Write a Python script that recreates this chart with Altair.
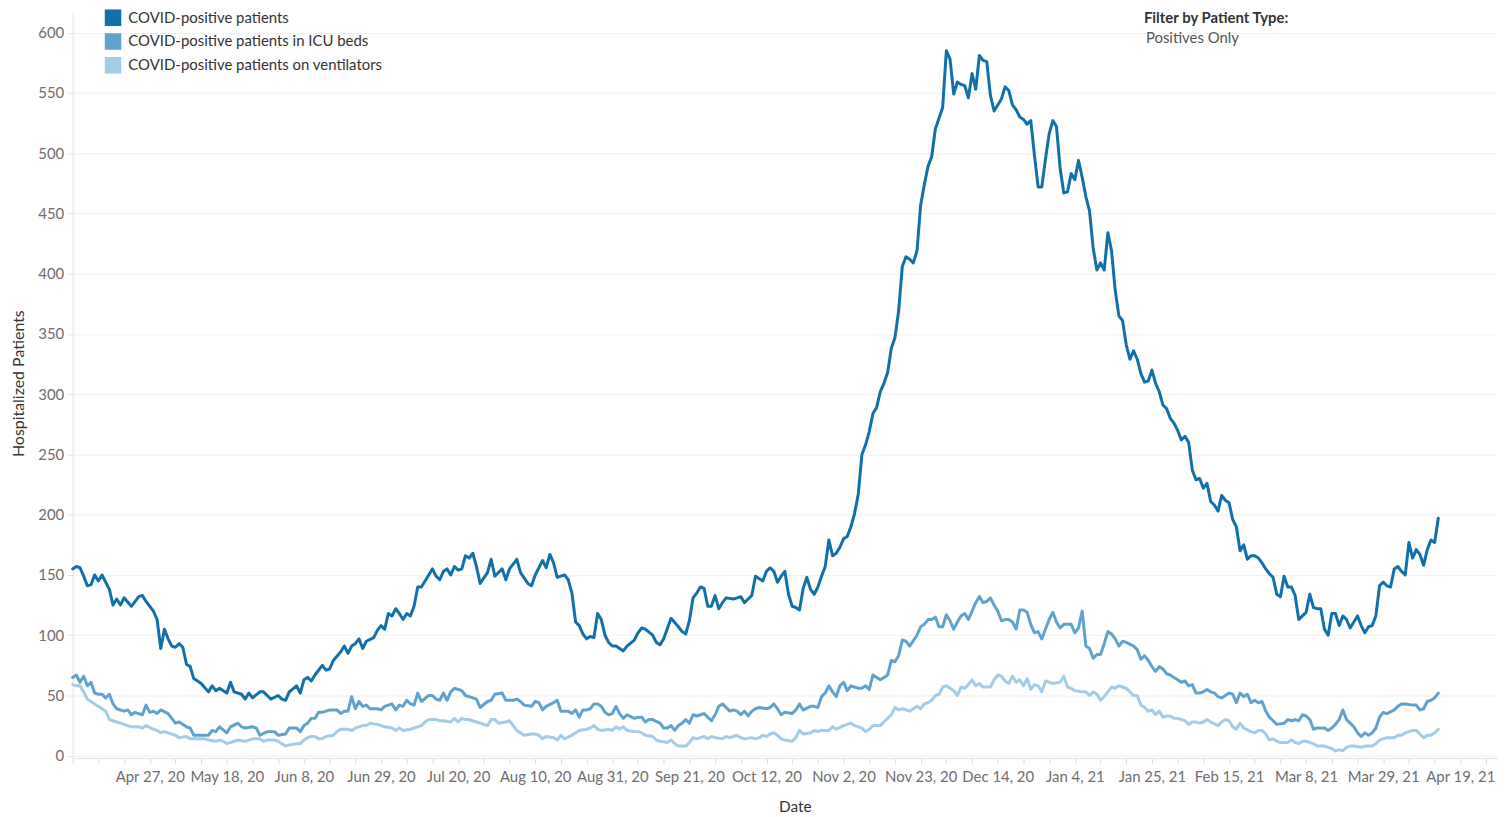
import altair as alt
import pandas as pd

START = "2020-04-06"
X_END = "2021-04-29"

series_names = [
    "COVID-positive patients",
    "COVID-positive patients in ICU beds",
    "COVID-positive patients on ventilators",
]
series_colors = ["#1170aa", "#5fa2ce", "#a3cce9"]

filter_title = "Filter by Patient Type:"
filter_value = "Positives Only"

# (day offset from 2020-04-06, patients)
positive = [
    (0,155),(1,157),(2,156),(3,149),(4,141),(5,142),(6,150),(7,145),(8,150),(10,138),(11,125),(12,130),(13,125),(14,131),
    (16,124),(18,132),(19,133),(20,128),(22,120),(23,113),(24,89),(25,105),(26,97),(27,91),(28,90),(29,93),(30,90),(31,76),
    (32,74),(33,64),(35,60),(37,53),(38,58),(39,54),(40,56),(42,52),(43,61),(44,53),(46,51),(47,47),(48,52),(49,48),(51,53),
    (52,53),(53,50),(54,47),(56,50),(57,47),(58,46),(59,53),(61,58),(62,52),(63,63),(64,65),(65,62),(66,67),(68,75),(69,71),
    (70,72),(71,79),(73,86),(74,91),(75,85),(76,91),(77,93),(78,97),(79,89),(80,95),(82,98),(83,104),(84,108),(85,105),
    (86,118),(87,116),(88,122),(89,118),(90,113),(91,118),(92,116),(93,124),(94,140),(95,140),(96,145),(98,155),(99,149),
    (100,146),(101,153),(102,155),(103,150),(104,157),(105,154),(106,155),(107,166),(108,164),(109,168),(110,157),(111,143),
    (113,152),(114,163),(115,149),(117,155),(118,146),(119,155),(121,163),(122,152),(124,143),(125,141),(126,150),(127,156),
    (128,162),(129,156),(130,167),(131,160),(132,148),(133,149),(134,150),(135,146),(136,135),(137,111),(138,108),(139,101),
    (140,97),(141,99),(142,98),(143,118),(144,113),(145,100),(146,94),(147,91),(148,91),(150,87),(151,91),(153,96),(154,102),
    (155,106),(156,105),(158,100),(159,94),(160,92),(161,97),(163,114),(165,107),(166,103),(167,101),(168,112),(169,131),
    (170,135),(171,140),(172,139),(173,124),(174,124),(175,133),(176,122),(177,127),(178,131),(180,130),(181,131),(182,132),
    (183,127),(184,130),(185,133),(186,149),(188,145),(189,153),(190,156),(191,153),(192,144),(193,149),(194,153),(195,134),
    (196,124),(197,123),(198,121),(199,139),(200,148),(201,138),(202,134),(203,140),(204,149),(205,157),(206,179),(207,166),
    (208,168),(209,173),(210,180),(211,182),(212,190),(213,201),(214,217),(215,250),(216,258),(217,269),(218,284),(219,289),
    (220,302),(221,309),(222,318),(223,338),(224,347),(225,369),(226,406),(227,414),(228,412),(229,409),(230,419),(231,457),
    (232,474),(233,489),(234,497),(235,520),(236,529),(237,538),(238,585),(239,578),(240,549),(241,559),(242,557),(243,556),
    (244,546),(245,566),(246,553),(247,581),(248,577),(249,576),(250,548),(251,535),(252,540),(253,545),(254,555),(255,552),
    (256,540),(257,536),(258,530),(259,528),(260,524),(261,527),(262,498),(263,472),(264,472),(265,495),(266,516),(267,527),
    (268,522),(269,487),(270,467),(271,468),(272,483),(273,478),(274,494),(275,480),(276,464),(277,452),(278,421),(279,403),
    (280,409),(281,403),(282,434),(283,419),(284,386),(285,365),(286,361),(287,341),(288,329),(289,336),(290,329),(291,317),
    (292,310),(293,311),(294,320),(295,309),(296,302),(297,291),(298,288),(299,280),(300,276),(301,270),(302,262),(303,265),
    (304,260),(305,237),(306,229),(307,230),(308,222),(309,226),(310,211),(311,208),(312,203),(313,216),(314,212),(315,210),
    (316,196),(317,190),(318,170),(319,175),(320,163),(321,166),(322,166),(323,164),(324,160),(325,155),(326,151),(327,148),
    (328,134),(329,132),(330,149),(331,140),(332,140),(333,133),(334,113),(335,116),(336,119),(337,134),(338,123),(339,122),
    (340,122),(341,105),(342,100),(343,118),(344,118),(345,108),(346,116),(347,113),(348,106),(349,111),(350,116),(351,108),
    (352,102),(353,107),(354,108),(355,116),(356,141),(357,144),(358,141),(359,140),(360,155),(361,157),(362,153),(363,150),
    (364,177),(365,164),(366,171),(367,167),(368,158),(369,171),(370,179),(371,177),(372,197),
]

icu = [
    (0,65),(1,67),(2,61),(3,66),(4,58),(5,61),(6,52),(7,51),(8,51),(9,48),(10,51),(11,43),(12,39),(14,37),(15,38),(16,34),
    (17,36),(18,35),(19,34),(20,42),(21,36),(22,37),(23,35),(24,38),(26,35),(27,31),(28,27),(29,28),(31,24),(32,23),(33,17),
    (34,17),(36,17),(37,17),(38,21),(39,20),(40,24),(42,19),(43,24),(45,27),(46,24),(47,23),(49,24),(50,23),(51,17),(53,20),
    (54,20),(55,20),(56,17),(58,18),(59,23),(61,23),(62,20),(63,25),(64,27),(65,31),(66,31),(67,36),(68,36),(70,38),(71,38),
    (72,38),(73,35),(74,37),(75,37),(76,49),(77,39),(78,45),(79,41),(80,42),(81,39),(82,39),(83,39),(84,38),(85,41),(87,43),
    (88,38),(89,42),(90,41),(91,46),(92,43),(93,42),(94,52),(95,45),(97,50),(98,50),(99,47),(100,46),(101,52),(102,46),
    (103,53),(104,56),(106,54),(107,50),(108,49),(110,47),(111,40),(113,45),(114,46),(115,51),(117,52),(118,46),(120,46),
    (121,47),(122,45),(123,42),(125,41),(126,45),(127,44),(128,38),(129,41),(131,44),(132,46),(133,37),(135,37),(136,35),
    (137,38),(138,32),(139,38),(140,38),(141,39),(142,43),(143,43),(144,41),(145,36),(146,34),(147,35),(148,41),(149,35),
    (150,31),(151,34),(153,31),(154,32),(155,32),(156,28),(157,30),(158,30),(160,27),(161,23),(162,23),(163,25),(164,21),
    (165,25),(166,27),(167,30),(168,27),(169,34),(170,33),(172,35),(173,32),(174,29),(175,34),(176,41),(177,43),(179,37),
    (180,38),(181,37),(182,34),(183,37),(184,33),(185,37),(186,39),(187,40),(189,39),(190,40),(191,43),(192,39),(193,34),
    (194,36),(196,35),(197,38),(198,43),(199,38),(201,41),(202,41),(203,40),(204,49),(205,52),(206,58),(207,53),(208,49),
    (209,58),(210,61),(211,54),(212,58),(214,56),(215,56),(216,58),(217,55),(218,67),(220,63),(221,65),(222,67),(223,79),
    (224,78),(225,83),(226,96),(227,95),(228,91),(230,100),(231,107),(232,109),(233,113),(234,113),(235,115),(236,107),
    (237,107),(238,117),(239,112),(240,105),(241,111),(242,116),(243,118),(244,113),(245,120),(246,127),(247,132),(248,127),
    (249,128),(250,131),(251,125),(252,120),(253,112),(254,113),(255,113),(256,111),(257,105),(258,121),(259,121),(260,119),
    (261,109),(262,102),(263,103),(264,97),(265,105),(266,113),(267,119),(268,111),(269,106),(270,109),(272,109),(273,102),
    (274,106),(275,120),(276,91),(277,89),(278,81),(279,84),(280,84),(281,93),(282,103),(283,101),(284,97),(285,91),(286,95),
    (287,94),(289,91),(290,88),(291,80),(292,83),(293,79),(294,74),(295,70),(296,74),(297,72),(298,68),(299,67),(300,65),
    (301,63),(302,61),(303,62),(304,58),(305,59),(306,52),(307,52),(308,53),(309,55),(310,53),(311,52),(312,49),(313,48),
    (314,50),(315,52),(316,51),(317,44),(318,52),(319,49),(320,51),(321,44),(322,46),(323,44),(324,45),(325,37),(326,32),
    (327,29),(328,26),(330,27),(331,30),(332,29),(333,30),(334,29),(335,34),(336,33),(337,30),(338,22),(339,23),(341,23),
    (342,21),(343,23),(344,26),(345,30),(346,38),(347,30),(349,24),(350,19),(351,16),(352,19),(353,17),(354,19),(355,23),
    (356,32),(357,36),(358,35),(360,38),(361,41),(362,43),(363,43),(365,42),(366,42),(367,38),(368,39),(369,45),(370,46),
    (371,48),(372,52),
]

ventilators = [
    (0,59),(1,58),(2,58),(3,53),(4,47),(5,45),(6,43),(8,39),(9,37),(10,30),(12,28),(13,27),(15,25),(16,24),(18,24),(19,23),
    (20,25),(22,22),(23,21),(24,19),(25,20),(26,19),(28,17),(29,15),(31,16),(32,14),(34,14),(36,14),(37,13),(39,12),(40,13),
    (41,12),(42,10),(44,12),(45,13),(47,12),(48,13),(49,14),(51,14),(52,12),(53,13),(55,13),(56,12),(57,10),(58,8),(59,9),
    (61,10),(62,10),(63,13),(64,15),(65,16),(66,16),(67,14),(68,14),(69,16),(71,17),(72,20),(73,22),(75,22),(76,21),(77,23),
    (79,25),(80,25),(81,27),(83,26),(84,25),(85,24),(87,23),(88,21),(89,23),(90,21),(92,22),(93,23),(95,25),(96,28),(97,30),
    (99,30),(100,29),(101,29),(103,28),(104,31),(105,28),(106,31),(107,30),(108,30),(110,28),(111,27),(113,25),(114,30),
    (115,30),(116,27),(118,28),(119,29),(120,25),(121,21),(122,19),(123,17),(125,18),(126,18),(127,17),(128,14),(129,16),
    (131,15),(132,13),(133,17),(134,14),(136,17),(137,19),(138,21),(140,22),(141,23),(142,25),(143,22),(144,21),(146,22),
    (147,21),(148,24),(149,22),(150,24),(151,21),(153,20),(154,20),(155,19),(156,17),(158,16),(159,13),(160,12),(162,11),
    (163,13),(164,10),(165,8),(167,8),(168,11),(169,15),(170,14),(172,16),(173,14),(174,16),(175,15),(177,14),(178,16),
    (179,15),(181,17),(182,15),(183,14),(185,15),(186,14),(187,15),(188,17),(189,16),(190,18),(191,19),(192,17),(193,14),
    (194,13),(196,12),(197,15),(198,21),(199,18),(201,19),(202,21),(203,20),(204,21),(206,21),(207,24),(208,22),(210,25),
    (211,26),(212,27),(213,25),(215,23),(216,20),(217,22),(218,25),(220,25),(221,28),(222,31),(223,34),(224,40),(225,38),
    (226,39),(228,37),(229,39),(230,41),(231,39),(232,43),(233,44),(234,46),(235,50),(236,51),(237,57),(238,58),(239,56),
    (240,54),(241,50),(242,57),(243,56),(244,59),(245,63),(246,58),(247,60),(248,57),(250,57),(251,63),(252,67),(253,66),
    (254,62),(255,60),(256,66),(257,61),(258,63),(259,58),(260,64),(261,55),(262,59),(263,58),(264,53),(265,62),(266,61),
    (267,60),(269,61),(270,66),(271,57),(272,56),(273,54),(275,53),(276,53),(277,50),(278,53),(279,51),(280,46),(281,49),
    (282,53),(283,57),(284,56),(285,58),(286,57),(287,56),(288,53),(289,50),(290,50),(291,42),(292,40),(293,37),(294,38),
    (295,34),(296,37),(297,32),(298,33),(299,33),(300,31),(301,31),(302,30),(303,29),(304,26),(305,28),(306,28),(307,27),
    (308,28),(309,30),(310,28),(312,25),(313,28),(314,30),(315,29),(316,24),(317,22),(318,27),(319,23),(321,20),(322,19),
    (323,21),(324,21),(325,18),(326,13),(327,14),(328,12),(329,11),(331,11),(332,13),(333,11),(334,10),(335,12),(336,12),
    (338,10),(339,8),(340,8),(341,8),(342,7),(343,6),(344,4),(345,5),(346,4),(347,7),(348,8),(349,8),(351,7),(352,8),
    (353,8),(354,8),(355,10),(356,13),(357,14),(358,15),(360,15),(361,17),(362,17),(363,19),(365,21),(366,21),(367,18),
    (368,15),(369,17),(370,17),(371,19),(372,22),
]

y_ticks = list(range(0, 601, 50))

# ---------------------------------------------------------------- data table
start = pd.Timestamp(START)
rows = []
for name, pts in zip(series_names, [positive, icu, ventilators]):
    for d, v in pts:
        rows.append({"date": (start + pd.Timedelta(days=d)).strftime("%Y-%m-%d"),
                     "value": v, "series": name})
df = pd.DataFrame(rows)


def ms(ts):
    return int(pd.Timestamp(ts).value // 10**6)


week_ticks = [ms(t) for t in pd.date_range(START, "2021-04-26", freq="7D")]
t_first_label = ms("2020-04-27")
label_expr = (
    f"datum.value >= {t_first_label} && "
    f"round((datum.value - {t_first_label}) / 604800000) % 3 == 0 "
    f"? utcFormat(datum.value, '%b %-d, %y') : ''"
)

FONT = "Lato"

x_enc = alt.X(
    "date:T",
    scale=alt.Scale(type="utc", domain=[ms(START), ms(X_END)]),
    axis=alt.Axis(
        values=week_ticks, labelExpr=label_expr, title="Date", grid=False,
        labelOverlap=False, labelFlush=False, tickSize=5, labelPadding=6,
        tickColor="#d9d9d9", domainColor="#e3e3e3",
        labelFont=FONT, labelFontSize=15, labelColor="#6e6e6e",
        titleFont=FONT, titleFontSize=15.5, titleFontWeight="normal", titleColor="#333333",
        titleX=726, titleY=49, titleBaseline="middle", titleAnchor="start", titleAlign="center",
    ),
)
y_enc = alt.Y(
    "value:Q",
    scale=alt.Scale(domain=[-2, 617], nice=False, zero=False),
    axis=alt.Axis(
        values=y_ticks, title="Hospitalized Patients", grid=True, gridColor="#f0f0f0",
        tickSize=5, labelPadding=4, tickColor="#e3e3e3", domainColor="#e3e3e3",
        labelFont=FONT, labelFontSize=15, labelColor="#6e6e6e",
        titleFont=FONT, titleFontSize=16, titleFontWeight="normal", titleColor="#333333",
        titleX=-54, titleY=373, titleAngle=-90, titleBaseline="middle", titleAlign="center",
    ),
)

lines = alt.Chart(df).mark_line(strokeJoin="round", strokeCap="round").encode(
    x=x_enc,
    y=y_enc,
    color=alt.Color(
        "series:N",
        scale=alt.Scale(domain=series_names, range=series_colors),
        sort=series_names,
        legend=alt.Legend(
            title=None, orient="none", legendX=32, legendY=-3,
            symbolType="square", symbolSize=70, symbolStrokeWidth=8.4,
            labelFont=FONT, labelFontSize=15, labelColor="#333333", labelLimit=0,
            clipHeight=17, rowPadding=7, labelOffset=7,
        ),
    ),
    strokeWidth=alt.value(3),
)

txt1 = alt.Chart(pd.DataFrame({"t": [filter_title]})).mark_text(
    align="left", baseline="middle", font=FONT, fontSize=15, fontWeight="bold", color="#333333"
).encode(x=alt.value(1077), y=alt.value(6), text="t:N")

txt2 = alt.Chart(pd.DataFrame({"t": [filter_value]})).mark_text(
    align="left", baseline="middle", font=FONT, fontSize=15, color="#555555"
).encode(x=alt.value(1079), y=alt.value(26), text="t:N")

chart = (
    alt.layer(lines, txt1, txt2)
    .properties(
        width=1432, height=750,
        padding={"left": 65, "top": 2, "right": 2, "bottom": 55},
        autosize=alt.AutoSizeParams(type="none"),
        background="white",
    )
    .configure_view(stroke=None)
)

chart.save("out.html", embed_options={"renderer": "svg", "actions": False})
